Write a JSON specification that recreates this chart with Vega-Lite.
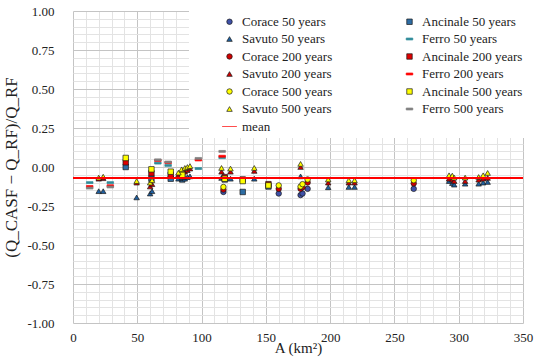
{
  "$schema": "https://vega.github.io/schema/vega-lite/v6.json",
  "width": 450,
  "height": 312,
  "autosize": {"type": "none"},
  "padding": {"left": 73, "top": 11, "right": 27, "bottom": 38},
  "background": "white",
  "config": {"view": {"stroke": null}, "font": "Liberation Serif"},
  "data": {"values": [
    {"A":117,"v":-0.16,"s":"Corace 50 years"},{"A":160,"v":-0.17,"s":"Corace 50 years"},{"A":177,"v":-0.18,"s":"Corace 50 years"},{"A":178.5,"v":-0.17,"s":"Corace 50 years"},{"A":182.5,"v":-0.14,"s":"Corace 50 years"},{"A":265,"v":-0.14,"s":"Corace 50 years"},
    {"A":41,"v":0.0,"s":"Ancinale 50 years"},{"A":61,"v":-0.075,"s":"Ancinale 50 years"},{"A":76,"v":-0.075,"s":"Ancinale 50 years"},{"A":85,"v":-0.08,"s":"Ancinale 50 years"},{"A":118,"v":-0.08,"s":"Ancinale 50 years"},{"A":132,"v":-0.16,"s":"Ancinale 50 years"},{"A":152,"v":-0.125,"s":"Ancinale 50 years"},
    {"A":20,"v":-0.155,"s":"Savuto 50 years"},{"A":23.5,"v":-0.155,"s":"Savuto 50 years"},{"A":49.5,"v":-0.195,"s":"Savuto 50 years"},{"A":60,"v":-0.17,"s":"Savuto 50 years"},{"A":61.5,"v":-0.155,"s":"Savuto 50 years"},{"A":82,"v":-0.075,"s":"Savuto 50 years"},{"A":84.5,"v":-0.07,"s":"Savuto 50 years"},{"A":87,"v":-0.075,"s":"Savuto 50 years"},{"A":89,"v":-0.065,"s":"Savuto 50 years"},{"A":91,"v":-0.06,"s":"Savuto 50 years"},{"A":115.5,"v":-0.07,"s":"Savuto 50 years"},{"A":122.5,"v":-0.075,"s":"Savuto 50 years"},{"A":141,"v":-0.075,"s":"Savuto 50 years"},{"A":177,"v":-0.06,"s":"Savuto 50 years"},{"A":198.5,"v":-0.13,"s":"Savuto 50 years"},{"A":214.5,"v":-0.128,"s":"Savuto 50 years"},{"A":219,"v":-0.128,"s":"Savuto 50 years"},{"A":292.5,"v":-0.09,"s":"Savuto 50 years"},{"A":295,"v":-0.103,"s":"Savuto 50 years"},{"A":296.5,"v":-0.113,"s":"Savuto 50 years"},{"A":305,"v":-0.107,"s":"Savuto 50 years"},{"A":315.5,"v":-0.107,"s":"Savuto 50 years"},{"A":319,"v":-0.1,"s":"Savuto 50 years"},{"A":322.5,"v":-0.096,"s":"Savuto 50 years"},
    {"A":13,"v":-0.1,"s":"Ferro 50 years"},{"A":29,"v":-0.1,"s":"Ferro 50 years"},{"A":66,"v":0.025,"s":"Ferro 50 years"},{"A":74,"v":0.01,"s":"Ferro 50 years"},{"A":97.5,"v":-0.01,"s":"Ferro 50 years"},{"A":116,"v":0.06,"s":"Ferro 50 years"},
    {"A":117,"v":-0.145,"s":"Corace 200 years"},{"A":160,"v":-0.14,"s":"Corace 200 years"},{"A":177,"v":-0.14,"s":"Corace 200 years"},{"A":178.5,"v":-0.13,"s":"Corace 200 years"},{"A":182.5,"v":-0.1,"s":"Corace 200 years"},{"A":265,"v":-0.105,"s":"Corace 200 years"},
    {"A":41,"v":0.03,"s":"Ancinale 200 years"},{"A":61,"v":-0.04,"s":"Ancinale 200 years"},{"A":76,"v":-0.05,"s":"Ancinale 200 years"},{"A":85,"v":-0.06,"s":"Ancinale 200 years"},{"A":118,"v":-0.065,"s":"Ancinale 200 years"},{"A":132,"v":-0.08,"s":"Ancinale 200 years"},{"A":152,"v":-0.11,"s":"Ancinale 200 years"},
    {"A":20,"v":-0.075,"s":"Savuto 200 years"},{"A":23.5,"v":-0.072,"s":"Savuto 200 years"},{"A":49.5,"v":-0.1,"s":"Savuto 200 years"},{"A":60,"v":-0.125,"s":"Savuto 200 years"},{"A":61.5,"v":-0.11,"s":"Savuto 200 years"},{"A":82,"v":-0.05,"s":"Savuto 200 years"},{"A":84.5,"v":-0.035,"s":"Savuto 200 years"},{"A":87,"v":-0.03,"s":"Savuto 200 years"},{"A":89,"v":-0.02,"s":"Savuto 200 years"},{"A":91,"v":-0.01,"s":"Savuto 200 years"},{"A":115.5,"v":-0.03,"s":"Savuto 200 years"},{"A":122.5,"v":-0.03,"s":"Savuto 200 years"},{"A":141,"v":-0.025,"s":"Savuto 200 years"},{"A":177,"v":0.0,"s":"Savuto 200 years"},{"A":198.5,"v":-0.1,"s":"Savuto 200 years"},{"A":214.5,"v":-0.1,"s":"Savuto 200 years"},{"A":219,"v":-0.1,"s":"Savuto 200 years"},{"A":292.5,"v":-0.075,"s":"Savuto 200 years"},{"A":295,"v":-0.08,"s":"Savuto 200 years"},{"A":296.5,"v":-0.09,"s":"Savuto 200 years"},{"A":305,"v":-0.09,"s":"Savuto 200 years"},{"A":315.5,"v":-0.081,"s":"Savuto 200 years"},{"A":319,"v":-0.075,"s":"Savuto 200 years"},{"A":322.5,"v":-0.07,"s":"Savuto 200 years"},
    {"A":13,"v":-0.125,"s":"Ferro 200 years"},{"A":29,"v":-0.12,"s":"Ferro 200 years"},{"A":66,"v":0.042,"s":"Ferro 200 years"},{"A":74,"v":0.028,"s":"Ferro 200 years"},{"A":97.5,"v":0.045,"s":"Ferro 200 years"},{"A":116,"v":0.069,"s":"Ferro 200 years"},
    {"A":117,"v":-0.128,"s":"Corace 500 years"},{"A":160,"v":-0.118,"s":"Corace 500 years"},{"A":177,"v":-0.125,"s":"Corace 500 years"},{"A":178.5,"v":-0.11,"s":"Corace 500 years"},{"A":182.5,"v":-0.08,"s":"Corace 500 years"},{"A":265,"v":-0.085,"s":"Corace 500 years"},
    {"A":41,"v":0.058,"s":"Ancinale 500 years"},{"A":61,"v":-0.015,"s":"Ancinale 500 years"},{"A":76,"v":-0.03,"s":"Ancinale 500 years"},{"A":85,"v":-0.05,"s":"Ancinale 500 years"},{"A":118,"v":-0.075,"s":"Ancinale 500 years"},{"A":132,"v":-0.09,"s":"Ancinale 500 years"},{"A":152,"v":-0.118,"s":"Ancinale 500 years"},
    {"A":20,"v":-0.068,"s":"Savuto 500 years"},{"A":23.5,"v":-0.062,"s":"Savuto 500 years"},{"A":49.5,"v":-0.09,"s":"Savuto 500 years"},{"A":60,"v":-0.1,"s":"Savuto 500 years"},{"A":61.5,"v":-0.085,"s":"Savuto 500 years"},{"A":82,"v":-0.036,"s":"Savuto 500 years"},{"A":84.5,"v":-0.015,"s":"Savuto 500 years"},{"A":87,"v":-0.006,"s":"Savuto 500 years"},{"A":89,"v":0.0,"s":"Savuto 500 years"},{"A":91,"v":0.006,"s":"Savuto 500 years"},{"A":115.5,"v":-0.006,"s":"Savuto 500 years"},{"A":122.5,"v":-0.01,"s":"Savuto 500 years"},{"A":141,"v":-0.006,"s":"Savuto 500 years"},{"A":177,"v":0.02,"s":"Savuto 500 years"},{"A":198.5,"v":-0.08,"s":"Savuto 500 years"},{"A":214.5,"v":-0.085,"s":"Savuto 500 years"},{"A":219,"v":-0.085,"s":"Savuto 500 years"},{"A":292.5,"v":-0.053,"s":"Savuto 500 years"},{"A":295,"v":-0.055,"s":"Savuto 500 years"},{"A":296.5,"v":-0.068,"s":"Savuto 500 years"},{"A":305,"v":-0.068,"s":"Savuto 500 years"},{"A":315.5,"v":-0.064,"s":"Savuto 500 years"},{"A":319,"v":-0.053,"s":"Savuto 500 years"},{"A":322.5,"v":-0.038,"s":"Savuto 500 years"},
    {"A":13,"v":-0.135,"s":"Ferro 500 years"},{"A":29,"v":-0.128,"s":"Ferro 500 years"},{"A":66,"v":0.046,"s":"Ferro 500 years"},{"A":74,"v":0.032,"s":"Ferro 500 years"},{"A":97.5,"v":0.055,"s":"Ferro 500 years"},{"A":116,"v":0.1,"s":"Ferro 500 years"}
  ]},
  "resolve": {"axis": {"x": "independent", "y": "independent"}},
  "layer": [
    {
      "mark": {"type": "point", "filled": true, "size": 30, "opacity": 0},
      "encoding": {
        "x": {"field": "A", "type": "quantitative",
          "scale": {"domain": [0, 350], "nice": false, "zero": false},
          "axis": {"orient": "top", "values": [10,20,30,40,60,70,80,90,110,120,130,140,160,170,180,190,210,220,230,240,260,270,280,290,310,320,330,340],
            "title": null, "grid": true, "gridColor": "#E3E3E3", "gridWidth": 1,
            "ticks": false, "domain": false, "labels": false}},
        "y": {"field": "v", "type": "quantitative",
          "scale": {"domain": [-1, 1], "nice": false, "zero": false},
          "axis": {"orient": "right", "values": [-0.95,-0.9,-0.85,-0.8,-0.7,-0.65,-0.6,-0.55,-0.45,-0.4,-0.35,-0.3,-0.2,-0.15,-0.1,-0.05,0.05,0.1,0.15,0.2,0.3,0.35,0.4,0.45,0.55,0.6,0.65,0.7,0.8,0.85,0.9,0.95],
            "title": null, "grid": true, "gridColor": "#E3E3E3", "gridWidth": 1,
            "ticks": false, "domain": false, "labels": false}}
      }
    },
    {
      "mark": {"type": "point", "filled": true, "size": 30, "strokeWidth": 0.7, "opacity": 1},
      "encoding": {
        "x": {"field": "A", "type": "quantitative",
          "axis": {"orient": "bottom", "values": [0,50,100,150,200,250,300,350],
            "title": "A (km²)", "grid": true, "gridColor": "#C4C4C4", "gridWidth": 1,
            "ticks": false, "domain": false, "labelFlush": false, "labelOverlap": false,
            "labelFont": "Liberation Serif", "labelFontSize": 13, "labelColor": "#222", "labelPadding": 8,
            "titleFont": "Liberation Serif", "titleFontSize": 15, "titleFontWeight": "normal", "titleColor": "#222", "titlePadding": -4}},
        "y": {"field": "v", "type": "quantitative",
          "axis": {"orient": "left", "values": [-1,-0.75,-0.5,-0.25,0,0.25,0.5,0.75,1],
            "title": "(Q_CASF − Q_RF)/Q_RF", "grid": true, "gridColor": "#C4C4C4", "gridWidth": 1,
            "ticks": false, "domain": false, "labelFlush": false, "labelOverlap": false,
            "labelExpr": "replace(format(datum.value, '.2f'), '−', '-')",
            "labelFont": "Liberation Serif", "labelFontSize": 13, "labelColor": "#222", "labelPadding": 19,
            "titleFont": "Liberation Serif", "titleFontSize": 17, "titleFontWeight": "normal", "titleColor": "#222", "titlePadding": 6}},
        "fill": {"field": "s", "type": "nominal",
          "scale": {"domain": ["Corace 50 years","Savuto 50 years","Corace 200 years","Savuto 200 years","Corace 500 years","Savuto 500 years","mean","Ancinale 50 years","Ferro 50 years","Ancinale 200 years","Ferro 200 years","Ancinale 500 years","Ferro 500 years"],
            "range": ["#3F51A8","#1F5F9F","#D00000","#D00000","#FFFF00","#FFFF00","#FF0000","#2E6DA4","#2E8B9A","#E00000","#FF0000","#FFFF00","#808080"]},
          "legend": {"orient": "none", "legendX": 116, "legendY": 0, "columns": 2, "title": null,
            "labelFont": "Liberation Serif", "labelFontSize": 13, "labelColor": "#222", "labelLimit": 200,
            "symbolSize": 30, "symbolStrokeWidth": 0.7, "symbolOffset": 30, "labelOffset": 6,
            "fillColor": "white", "padding": 4, "columnPadding": 40, "rowPadding": 3.5}},
        "shape": {"field": "s", "type": "nominal",
          "scale": {"domain": ["Corace 50 years","Savuto 50 years","Corace 200 years","Savuto 200 years","Corace 500 years","Savuto 500 years","mean","Ancinale 50 years","Ferro 50 years","Ancinale 200 years","Ferro 200 years","Ancinale 500 years","Ferro 500 years"],
            "range": ["circle","triangle-up","circle","triangle-up","circle","triangle-up","M-2.7,0H2.7","square","M-1.2,-0.35H1.2V0.35H-1.2Z","square","M-1.2,-0.35H1.2V0.35H-1.2Z","square","M-1.2,-0.35H1.2V0.35H-1.2Z"]},
          "legend": {"orient": "none", "legendX": 116, "legendY": 0, "columns": 2, "title": null}},
        "stroke": {"field": "s", "type": "nominal",
          "scale": {"domain": ["Corace 50 years","Savuto 50 years","Corace 200 years","Savuto 200 years","Corace 500 years","Savuto 500 years","mean","Ancinale 50 years","Ferro 50 years","Ancinale 200 years","Ferro 200 years","Ancinale 500 years","Ferro 500 years"],
            "range": ["#1a1a1a","#1a1a1a","#1a1a1a","#1a1a1a","#1a1a1a","#1a1a1a","#FF0000","#1a1a1a","#2E8B9A","#1a1a1a","#FF0000","#1a1a1a","#808080"]},
          "legend": {"orient": "none", "legendX": 116, "legendY": 0, "columns": 2, "title": null}}
      }
    },
    {
      "mark": {"type": "rule", "color": "#FF0000", "strokeWidth": 1.3},
      "encoding": {"y": {"datum": -0.07, "axis": null}}
    }
  ]
}
